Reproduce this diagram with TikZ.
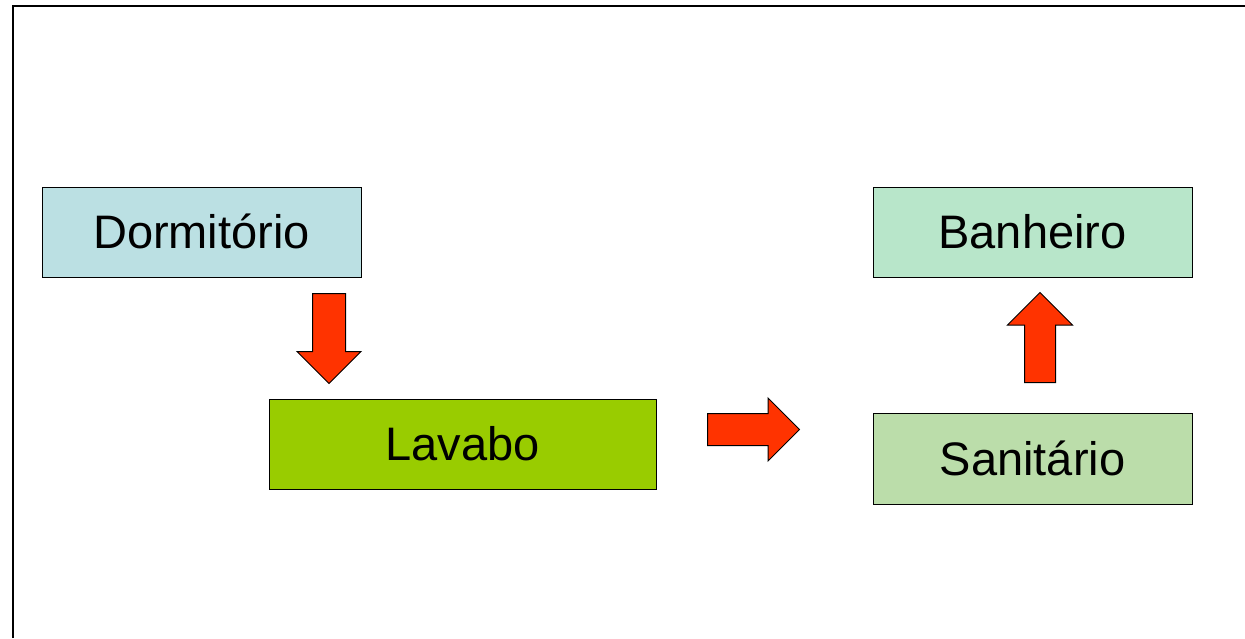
\documentclass[tikz,border=0pt]{standalone}
\usepackage{fontspec}
\setmainfont{Liberation Sans}
\usetikzlibrary{shapes.arrows}
\definecolor{roomblue}{HTML}{BBE0E3}
\definecolor{roomlime}{HTML}{99CC00}
\definecolor{roommint}{HTML}{B8E6CA}
\definecolor{roomsage}{HTML}{BBDDAA}
\definecolor{flowred}{HTML}{FF3300}
\begin{document}
\begin{tikzpicture}
    [x=1pt,y=-1pt,
     room/.style={draw=black,line width=1pt,minimum width=319pt,minimum height=90pt,
       inner sep=0pt,font=\fontsize{47}{50}\selectfont,text height=32pt,text depth=0pt},
     flow/.style={single arrow,draw=black,fill=flowred,line width=1pt,inner sep=16pt,
       minimum height=90pt,minimum width=63pt,single arrow head extend=15.5pt,
       single arrow head indent=0pt,anchor=tail,shape border rotate=#1}]
    \useasboundingbox (0,0) rectangle (1245,638);
    \draw [line width=2pt] (12.5,638) -- (12.5,6) -- (1245,6);
    \node [room,fill=roomblue] (dorm) at (201.5,232) {Dormitório};
    \node [room,fill=roomlime,minimum width=387pt] (lavabo) at (462.5,444) {Lavabo};
    \node [room,fill=roommint] (banho) at (1032.5,232) {Banheiro};
    \node [room,fill=roomsage,minimum height=91pt] (sanit) at (1032.5,459) {Sanitário};
    \node [flow=270] (f1) at (329,293) {};
    \node [flow=0,minimum height=92pt,inner sep=15.5pt] (f2) at (707,429.5) {};
    \node [flow=90,inner sep=15pt,single arrow head extend=17pt] (f3) at (1040,383) {};
  \end{tikzpicture}
\end{document}
